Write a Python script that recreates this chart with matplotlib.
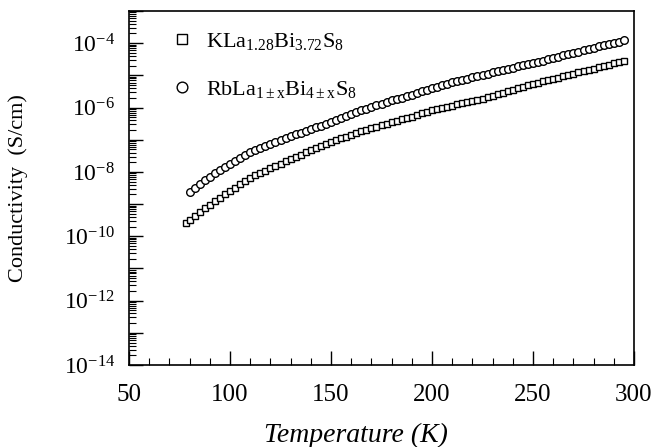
import matplotlib
matplotlib.use("Agg")
import matplotlib.pyplot as plt
import numpy as np
from matplotlib.ticker import FixedLocator, LogLocator, NullFormatter, MultipleLocator

plt.rcParams['font.family'] = ['Liberation Serif', 'DejaVu Serif']
plt.rcParams['mathtext.fontset'] = 'custom'
plt.rcParams['mathtext.rm'] = 'Liberation Serif'
plt.rcParams['mathtext.it'] = 'Liberation Serif:italic'
plt.rcParams['mathtext.bf'] = 'Liberation Serif:bold'

# Temperature (K) and log10 conductivity (S/cm)
temp_rb = [80, 82.5, 85, 87.5, 90, 92.5, 95, 97.5, 100, 102.5, 105, 107.5, 110, 112.5,
           115, 117.5, 120, 122.5, 125, 127.5, 130, 132.5, 135, 137.5, 140, 142.5,
           145, 147.5, 150, 152.5, 155, 157.5, 160, 162.5, 165, 167.5, 170, 172.5,
           175, 177.5, 180, 182.5, 185, 187.5, 190, 192.5, 195, 197.5, 200, 202.5,
           205, 207.5, 210, 212.5, 215, 217.5, 220, 222.5, 225, 227.5, 230, 232.5,
           235, 237.5, 240, 242.5, 245, 247.5, 250, 252.5, 255, 257.5, 260, 262.5,
           265, 267.5, 270, 272.5, 275, 277.5, 280, 282.5, 285, 287.5, 290, 292.5, 295]
logsig_rb = [-8.63, -8.50, -8.38, -8.26, -8.15, -8.04, -7.94, -7.84, -7.75, -7.66,
             -7.57, -7.48, -7.39, -7.32, -7.26, -7.19, -7.13, -7.07, -7.01, -6.95,
             -6.89, -6.83, -6.78, -6.72, -6.67, -6.61, -6.56, -6.50, -6.45, -6.39,
             -6.33, -6.27, -6.21, -6.15, -6.09, -6.03, -5.98, -5.93, -5.88, -5.83,
             -5.78, -5.74, -5.69, -5.65, -5.60, -5.55, -5.50, -5.45, -5.40, -5.36,
             -5.31, -5.27, -5.22, -5.18, -5.14, -5.10, -5.06, -5.02, -4.98, -4.95,
             -4.91, -4.87, -4.83, -4.80, -4.76, -4.72, -4.69, -4.65, -4.62, -4.58,
             -4.54, -4.50, -4.46, -4.42, -4.38, -4.34, -4.30, -4.26, -4.22, -4.18,
             -4.14, -4.10, -4.06, -4.02, -3.98, -3.95, -3.91]

temp_k = [78, 80, 82.5, 85, 87.5, 90, 92.5, 95, 97.5, 100, 102.5, 105, 107.5, 110,
          112.5, 115, 117.5, 120, 122.5, 125, 127.5, 130, 132.5, 135, 137.5, 140,
          142.5, 145, 147.5, 150, 152.5, 155, 157.5, 160, 162.5, 165, 167.5, 170,
          172.5, 175, 177.5, 180, 182.5, 185, 187.5, 190, 192.5, 195, 197.5, 200,
          202.5, 205, 207.5, 210, 212.5, 215, 217.5, 220, 222.5, 225, 227.5, 230,
          232.5, 235, 237.5, 240, 242.5, 245, 247.5, 250, 252.5, 255, 257.5, 260,
          262.5, 265, 267.5, 270, 272.5, 275, 277.5, 280, 282.5, 285, 287.5, 290,
          292.5, 295]
logsig_k = [-9.59, -9.48, -9.36, -9.25, -9.13, -9.02, -8.91, -8.81, -8.70, -8.60,
            -8.49, -8.39, -8.29, -8.19, -8.11, -8.04, -7.96, -7.89, -7.82, -7.75,
            -7.67, -7.60, -7.53, -7.46, -7.39, -7.33, -7.26, -7.20, -7.13, -7.07,
            -7.01, -6.96, -6.90, -6.85, -6.79, -6.74, -6.69, -6.64, -6.59, -6.55,
            -6.50, -6.46, -6.41, -6.37, -6.32, -6.28, -6.23, -6.18, -6.13, -6.08,
            -6.05, -6.01, -5.97, -5.94, -5.90, -5.87, -5.83, -5.80, -5.76, -5.72,
            -5.67, -5.63, -5.58, -5.54, -5.49, -5.45, -5.40, -5.36, -5.31, -5.27,
            -5.23, -5.19, -5.15, -5.11, -5.07, -5.03, -4.99, -4.95, -4.91, -4.87,
            -4.83, -4.79, -4.75, -4.71, -4.67, -4.63, -4.59, -4.56]

label_k = r'KLa$_{\mathrm{1.28}}$Bi$_{\mathrm{3.72}}$S$_{\mathrm{8}}$'
label_rb = r'RbLa$_{\mathrm{1\pm x}}$Bi$_{\mathrm{4\pm x}}$S$_{\mathrm{8}}$'

xticks = [50, 100, 150, 200, 250, 300]
yexps = [-14, -12, -10, -8, -6, -4]

fig = plt.figure(figsize=(6.57, 4.47), dpi=100)
ax = fig.add_axes([129/657, 1 - 365/447, (634-129)/657, (365-11)/447])

sig_k = np.power(10.0, logsig_k)
sig_rb = np.power(10.0, logsig_rb)

ax.plot(temp_k, sig_k, linestyle='none', marker='s', markersize=5.0,
        markerfacecolor='white', markeredgecolor='black', markeredgewidth=1.0,
        label=label_k)
ax.plot(temp_rb, sig_rb, linestyle='none', marker='o', markersize=5.5,
        markerfacecolor='white', markeredgecolor='black', markeredgewidth=1.0,
        label=label_rb)

ax.set_yscale('log')
ax.set_xlim(50, 300)
ax.set_ylim(1e-14, 1e-3)

ax.set_xticks(xticks)
ax.set_xticklabels([str(t) for t in xticks])
ax.xaxis.set_minor_locator(MultipleLocator(10))

ax.yaxis.set_major_locator(FixedLocator([10.0**e for e in range(-14, -2)]))
ax.yaxis.set_minor_locator(LogLocator(base=10, subs=np.arange(2, 10), numticks=30))
ax.yaxis.set_minor_formatter(NullFormatter())
ylabels = []
for e in range(-14, -2):
    if e in yexps:
        ylabels.append(r'10$^{\mathrm{%d}}$' % e)
    else:
        ylabels.append('')
ax.set_yticklabels(ylabels)

ax.tick_params(axis='both', which='major', direction='in', length=10, width=1.0,
               top=False, right=False)
ax.tick_params(axis='both', which='minor', direction='in', length=5, width=0.8,
               top=False, right=False)
ax.tick_params(axis='x', which='major', pad=14, labelsize=18)
ax.tick_params(axis='y', which='major', pad=10, labelsize=17)

for s in ax.spines.values():
    s.set_linewidth(1.2)

ax.set_xlabel('Temperature (K)', fontsize=20, style='italic')
ax.xaxis.set_label_coords((356 - 129) / 505, (365 - 423) / 354)
ax.set_ylabel('Conductivity  (S/cm)', fontsize=16, labelpad=26)

leg = ax.legend(loc='upper left', bbox_to_anchor=(0.038, 1.0), frameon=False,
                fontsize=16, handletextpad=0.5, labelspacing=1.2, handlelength=1.2,
                markerscale=1.4)

fig.savefig('out.png', dpi=100)
